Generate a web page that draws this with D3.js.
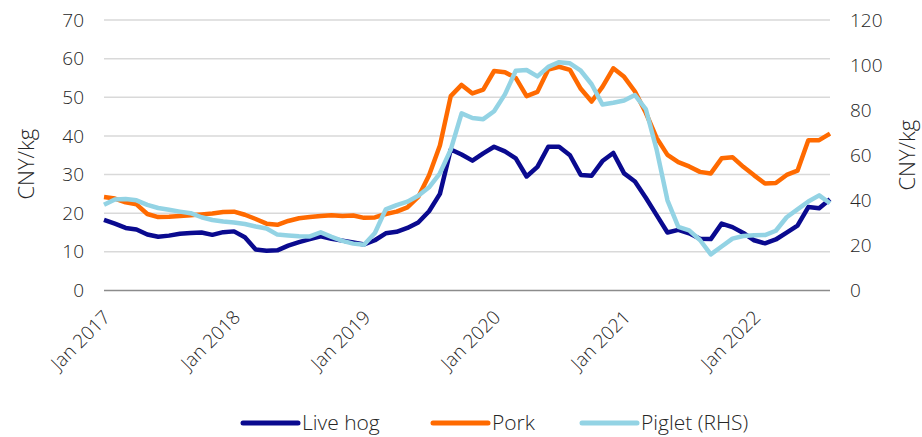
<!DOCTYPE html>
<html>
<head>
<meta charset="utf-8">
<script src="https://cdn.jsdelivr.net/npm/d3@7/dist/d3.min.js"></script>
<style>
  html, body { margin: 0; padding: 0; background: #ffffff; }
  svg text { font-family: "Open Sans", "Noto Sans", sans-serif; font-weight: 300; }
</style>
</head>
<body>
<svg id="chart" width="922" height="437"></svg>
<script>
// Monthly price series, Jan 2017 – Aug 2022
const months = d3.timeMonth.range(new Date(2017, 0, 1), new Date(2022, 8, 1));

// Live hog price, CNY/kg (left axis)
const liveHog = [
  18.3, 17.3, 16.2, 15.8, 14.5, 13.9, 14.2, 14.7, 14.9, 15.0, 14.4, 15.1,
  15.3, 13.8, 10.6, 10.3, 10.4, 11.6, 12.5, 13.3, 14.0, 13.4, 12.9, 12.4,
  11.9, 13.0, 14.8, 15.2, 16.2, 17.6, 20.5, 25.0, 36.5, 35.2, 33.6, 35.5,
  37.2, 36.0, 34.2, 29.5, 32.0, 37.2, 37.2, 35.0, 29.9, 29.7, 33.5, 35.6,
  30.3, 28.2, 24.0, 19.5, 15.0, 15.7, 14.8, 13.4, 13.3, 17.3, 16.4, 14.9,
  13.0, 12.2, 13.2, 15.0, 16.8, 21.6, 21.3, 23.6
];

// Pork price, CNY/kg (left axis)
const pork = [
  24.2, 23.8, 22.8, 22.3, 19.8, 19.0, 19.1, 19.3, 19.5, 19.7, 19.9, 20.3,
  20.4, 19.6, 18.5, 17.3, 17.0, 18.0, 18.7, 19.0, 19.3, 19.5, 19.3, 19.4,
  18.8, 18.9, 19.8, 20.4, 21.5, 24.2, 29.8, 37.5, 50.3, 53.2, 51.0, 52.0,
  56.8, 56.5, 55.0, 50.3, 51.4, 57.2, 57.9, 57.1, 52.2, 48.9, 52.7, 57.5,
  55.3, 51.5, 46.0, 39.5, 35.1, 33.2, 32.1, 30.7, 30.3, 34.2, 34.5, 32.0,
  29.8, 27.7, 27.8, 29.9, 31.0, 38.9, 38.9, 40.6
];

// Piglet price, CNY/kg (right axis)
const piglet = [
  38.0, 40.4, 40.6, 40.0, 38.0, 36.6, 35.8, 35.0, 34.3, 32.5, 31.3, 30.6,
  30.2, 29.5, 28.4, 27.5, 24.8, 24.4, 24.1, 24.0, 25.8, 23.8, 22.0, 20.8,
  20.3, 25.5, 36.0, 37.9, 39.4, 42.0, 45.8, 52.0, 62.5, 78.6, 76.5, 76.0,
  79.5, 87.0, 97.5, 97.8, 95.0, 99.2, 101.3, 100.8, 97.5, 91.5, 82.5, 83.3,
  84.3, 86.7, 80.5, 62.5, 40.0, 28.2, 26.7, 22.4, 16.0, 19.5, 23.0, 24.2,
  24.5, 24.6, 26.5, 32.5, 36.0, 39.5, 42.2, 38.7
];

const leftTicks = [0, 10, 20, 30, 40, 50, 60, 70];
const rightTicks = [0, 20, 40, 60, 80, 100, 120];
const xTickLabels = ["Jan 2017", "Jan 2018", "Jan 2019", "Jan 2020", "Jan 2021", "Jan 2022"];

const seriesInfo = [
  { name: "Live hog", values: liveHog, axis: "left", color: "#0a0a8f" },
  { name: "Pork", values: pork, axis: "left", color: "#ff6a00" },
  { name: "Piglet (RHS)", values: piglet, axis: "right", color: "#93d3e4" }
];

const svg = d3.select("#chart");
const plot = { left: 104, right: 830, top: 20, bottom: 290.5 };
const textColor = "#262626";
const fontStack = '"Open Sans", "Noto Sans", sans-serif';
const fmtMonth = d3.timeFormat("%b %Y");

const x = d3.scalePoint()
  .domain(months.map(fmtMonth))
  .range([plot.left, plot.right]);

const yLeft = d3.scaleLinear().domain([0, 70]).range([plot.bottom, plot.top]);
const yRight = d3.scaleLinear().domain([0, 120]).range([plot.bottom, plot.top]);

function styleText(sel, size) {
  sel.attr("fill", textColor)
    .attr("font-family", fontStack)
    .attr("font-weight", 300)
    .attr("font-size", size);
}

// Horizontal gridlines from the left axis
svg.append("g")
  .selectAll("line")
  .data(leftTicks.filter(d => d > 0))
  .join("line")
  .attr("x1", plot.left)
  .attr("x2", plot.right)
  .attr("y1", d => yLeft(d))
  .attr("y2", d => yLeft(d))
  .attr("stroke", "#d9d9d9")
  .attr("stroke-width", 1.5);

// Baseline
svg.append("line")
  .attr("x1", plot.left)
  .attr("x2", plot.right)
  .attr("y1", yLeft(0))
  .attr("y2", yLeft(0))
  .attr("stroke", "#8c8c8c")
  .attr("stroke-width", 1.5);

// Left axis labels
const gLeft = svg.append("g")
  .attr("transform", `translate(${plot.left},0)`)
  .call(d3.axisLeft(yLeft).tickValues(leftTicks).tickSize(0).tickPadding(20));
gLeft.attr("font-family", null);
gLeft.select(".domain").remove();
gLeft.selectAll("text").call(styleText, 19);

// Right axis labels
const gRight = svg.append("g")
  .attr("transform", `translate(${plot.right},0)`)
  .call(d3.axisRight(yRight).tickValues(rightTicks).tickSize(0).tickPadding(20));
gRight.attr("font-family", null);
gRight.select(".domain").remove();
gRight.selectAll("text").call(styleText, 19);

// X axis labels, rotated
const gX = svg.append("g")
  .attr("transform", `translate(0,${plot.bottom})`)
  .call(d3.axisBottom(x).tickValues(xTickLabels).tickSize(0));
gX.attr("font-family", null);
gX.select(".domain").remove();
gX.selectAll("text")
  .call(styleText, 19)
  .attr("text-anchor", "end")
  .attr("dy", null)
  .attr("y", 0)
  .attr("transform", "translate(7,28) rotate(-45)");

// Axis titles
svg.append("text")
  .attr("transform", `translate(34,${(plot.top + plot.bottom) / 2 + 9}) rotate(-90)`)
  .attr("text-anchor", "middle")
  .call(styleText, 22)
  .text("CNY/kg");

svg.append("text")
  .attr("transform", `translate(915,${(plot.top + plot.bottom) / 2}) rotate(-90)`)
  .attr("text-anchor", "middle")
  .call(styleText, 22)
  .text("CNY/kg");

// Series lines
seriesInfo.forEach(s => {
  const yScale = s.axis === "left" ? yLeft : yRight;
  const line = d3.line()
    .x((d, i) => x(fmtMonth(months[i])))
    .y(d => yScale(d));
  svg.append("path")
    .datum(s.values)
    .attr("d", line)
    .attr("fill", "none")
    .attr("stroke", s.color)
    .attr("stroke-width", 4.5)
    .attr("stroke-linejoin", "round")
    .attr("stroke-linecap", "butt");
});

// Legend
const legendX = [243, 433, 582];
const legend = svg.append("g");
seriesInfo.forEach((s, i) => {
  const g = legend.append("g").attr("transform", `translate(${legendX[i]},423)`);
  g.append("line")
    .attr("x1", 0).attr("x2", 55)
    .attr("y1", 0).attr("y2", 0)
    .attr("stroke", s.color)
    .attr("stroke-width", 5)
    .attr("stroke-linecap", "round");
  g.append("text")
    .attr("x", 59)
    .attr("dy", "0.35em")
    .call(styleText, 21)
    .text(s.name);
});
</script>
</body>
</html>
